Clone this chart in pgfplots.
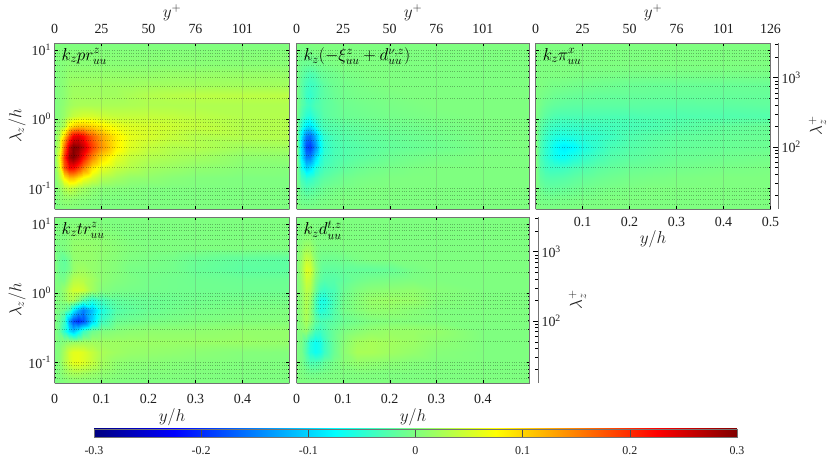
\documentclass[border=0pt]{standalone}
\usepackage{fontspec}
\setmainfont{Liberation Serif}
\usepackage{pgfplots}
\usepackage{pgfplotstable}
\pgfplotsset{compat=1.18}

% one row per lambda_z/h level (top to bottom), 16 columns: y/h = 0 .01 .02 .03 .04 .05 .06 .08 .10 .13 .16 .20 .25 .30 .40 .50

\pgfplotstableread[row sep=\\,header=false]{
0\\0\\0\\0\\0\\0\\0\\0\\0\\0\\0\\0\\0\\0\\0\\0\\
0\\.002\\.003\\.004\\.004\\.004\\.004\\.004\\.004\\.004\\.004\\.004\\.004\\.004\\.004\\.004\\
0\\.002\\.004\\.006\\.006\\.006\\.006\\.006\\.006\\.006\\.006\\.006\\.006\\.006\\.006\\.006\\
0\\.003\\.006\\.012\\.012\\.012\\.012\\.012\\.012\\.012\\.012\\.012\\.014\\.014\\.014\\.014\\
0\\.003\\.008\\.015\\.018\\.018\\.018\\.018\\.018\\.018\\.018\\.02\\.02\\.02\\.02\\.02\\
0\\.003\\.008\\.016\\.02\\.02\\.02\\.02\\.02\\.02\\.025\\.03\\.033\\.035\\.035\\.035\\
0\\.004\\.01\\.018\\.022\\.024\\.025\\.025\\.025\\.025\\.026\\.028\\.028\\.028\\.028\\.028\\
.002\\.005\\.015\\.03\\.04\\.045\\.05\\.05\\.045\\.04\\.04\\.04\\.038\\.035\\.03\\.03\\
.003\\.01\\.03\\.08\\.1\\.11\\.11\\.1\\.085\\.065\\.055\\.05\\.045\\.04\\.03\\.03\\
.005\\.03\\.1\\.18\\.23\\.24\\.22\\.17\\.13\\.085\\.06\\.05\\.04\\.03\\.03\\.03\\
.01\\.04\\.16\\.26\\.3\\.29\\.26\\.19\\.14\\.085\\.055\\.04\\.03\\.03\\.02\\.02\\
.012\\.06\\.19\\.28\\.3\\.27\\.22\\.15\\.1\\.06\\.04\\.03\\.025\\.02\\.01\\.01\\
.01\\.05\\.17\\.22\\.22\\.19\\.15\\.09\\.06\\.04\\.03\\.02\\.015\\.01\\.005\\.003\\
.005\\.03\\.08\\.11\\.11\\.09\\.07\\.05\\.03\\.02\\.012\\.01\\.005\\.002\\0\\0\\
.002\\.01\\.03\\.04\\.035\\.025\\.02\\.01\\.005\\.003\\.002\\0\\0\\0\\0\\0\\
0\\.005\\.01\\.01\\.008\\.006\\.005\\.002\\0\\0\\0\\0\\0\\0\\0\\0\\
0\\0\\.002\\.002\\.002\\.002\\.001\\0\\0\\0\\0\\0\\0\\0\\0\\0\\
}\panelA

\pgfplotstableread[row sep=\\,header=false]{
0\\0\\0\\0\\0\\0\\0\\0\\0\\0\\0\\0\\0\\0\\0\\0\\
-.001\\-.005\\-.005\\-.005\\-.002\\0\\0\\0\\0\\0\\0\\0\\0\\0\\0\\0\\
-.002\\-.01\\-.012\\-.012\\-.01\\-.008\\-.005\\-.002\\0\\0\\0\\0\\0\\0\\0\\0\\
-.003\\-.015\\-.025\\-.03\\-.025\\-.015\\-.012\\-.008\\-.004\\-.002\\0\\0\\0\\0\\0\\0\\
-.003\\-.02\\-.035\\-.04\\-.035\\-.025\\-.018\\-.01\\-.007\\-.004\\-.002\\0\\0\\0\\0\\0\\
-.003\\-.02\\-.04\\-.045\\-.035\\-.025\\-.02\\-.012\\-.008\\-.005\\-.004\\-.002\\0\\0\\0\\0\\
-.003\\-.02\\-.035\\-.04\\-.03\\-.025\\-.02\\-.015\\-.01\\-.008\\-.006\\-.004\\-.002\\0\\0\\0\\
-.004\\-.03\\-.05\\-.055\\-.04\\-.03\\-.022\\-.016\\-.012\\-.01\\-.008\\-.006\\-.004\\-.002\\0\\0\\
-.005\\-.05\\-.085\\-.09\\-.065\\-.04\\-.03\\-.024\\-.02\\-.016\\-.013\\-.01\\-.008\\-.005\\-.001\\0\\
-.005\\-.08\\-.15\\-.16\\-.12\\-.07\\-.045\\-.03\\-.025\\-.02\\-.017\\-.014\\-.011\\-.008\\-.002\\0\\
-.005\\-.09\\-.18\\-.19\\-.14\\-.08\\-.05\\-.033\\-.028\\-.024\\-.02\\-.016\\-.013\\-.01\\-.003\\0\\
-.005\\-.08\\-.15\\-.15\\-.1\\-.06\\-.042\\-.03\\-.026\\-.02\\-.016\\-.011\\-.007\\-.004\\0\\0\\
-.005\\-.06\\-.1\\-.09\\-.06\\-.042\\-.032\\-.024\\-.018\\-.012\\-.008\\-.005\\-.002\\0\\0\\0\\
-.004\\-.035\\-.05\\-.045\\-.035\\-.025\\-.02\\-.014\\-.009\\-.005\\-.003\\-.001\\0\\0\\0\\0\\
-.003\\-.02\\-.03\\-.025\\-.02\\-.015\\-.01\\-.006\\-.004\\-.002\\0\\0\\0\\0\\0\\0\\
-.002\\-.01\\-.012\\-.01\\-.008\\-.005\\-.004\\-.002\\0\\0\\0\\0\\0\\0\\0\\0\\
0\\-.003\\-.003\\-.003\\-.002\\-.002\\-.001\\0\\0\\0\\0\\0\\0\\0\\0\\0\\
}\panelB

\pgfplotstableread[row sep=\\,header=false]{
0\\0\\0\\0\\0\\0\\0\\0\\0\\0\\0\\0\\0\\0\\0\\0\\
0\\0\\0\\0\\0\\0\\0\\0\\0\\0\\0\\0\\0\\0\\0\\0\\
0\\0\\0\\0\\0\\0\\0\\0\\0\\0\\0\\0\\0\\0\\0\\0\\
0\\0\\0\\0\\0\\0\\0\\-.001\\-.002\\-.003\\-.003\\-.004\\-.004\\-.004\\-.004\\-.004\\
0\\0\\-.002\\-.004\\-.005\\-.005\\-.006\\-.007\\-.008\\-.009\\-.01\\-.012\\-.013\\-.013\\-.013\\-.013\\
0\\-.003\\-.006\\-.008\\-.01\\-.011\\-.012\\-.013\\-.014\\-.015\\-.015\\-.015\\-.015\\-.015\\-.015\\-.015\\
0\\-.006\\-.012\\-.015\\-.017\\-.018\\-.019\\-.02\\-.02\\-.02\\-.02\\-.02\\-.021\\-.021\\-.02\\-.018\\
0\\-.012\\-.02\\-.025\\-.028\\-.03\\-.03\\-.03\\-.03\\-.03\\-.03\\-.03\\-.028\\-.028\\-.027\\-.026\\
0\\-.02\\-.03\\-.037\\-.04\\-.042\\-.042\\-.042\\-.04\\-.038\\-.035\\-.033\\-.03\\-.024\\-.017\\-.013\\
0\\-.025\\-.04\\-.048\\-.054\\-.057\\-.058\\-.055\\-.05\\-.045\\-.038\\-.028\\-.022\\-.018\\-.014\\-.012\\
0\\-.03\\-.047\\-.058\\-.07\\-.08\\-.085\\-.078\\-.06\\-.045\\-.032\\-.025\\-.02\\-.016\\-.013\\-.011\\
0\\-.03\\-.045\\-.055\\-.065\\-.07\\-.07\\-.058\\-.045\\-.034\\-.025\\-.02\\-.016\\-.012\\-.009\\-.006\\
0\\-.025\\-.035\\-.04\\-.04\\-.04\\-.038\\-.032\\-.027\\-.02\\-.016\\-.012\\-.01\\-.007\\-.004\\-.002\\
0\\-.018\\-.024\\-.026\\-.026\\-.025\\-.024\\-.02\\-.016\\-.012\\-.009\\-.006\\-.004\\-.002\\0\\0\\
0\\-.01\\-.016\\-.017\\-.017\\-.016\\-.015\\-.012\\-.009\\-.006\\-.004\\-.002\\0\\0\\0\\0\\
0\\-.005\\-.006\\-.006\\-.006\\-.005\\-.005\\-.004\\-.003\\-.002\\0\\0\\0\\0\\0\\0\\
0\\-.001\\-.002\\-.002\\-.002\\-.002\\-.001\\-.001\\0\\0\\0\\0\\0\\0\\0\\0\\
}\panelC

\pgfplotstableread[row sep=\\,header=false]{
0\\0\\0\\0\\0\\0\\0\\0\\0\\0\\0\\0\\0\\0\\0\\0\\
0\\0\\0\\.002\\.005\\.005\\.005\\.004\\.002\\0\\0\\0\\0\\0\\0\\0\\
0\\0\\0\\.005\\.01\\.01\\.01\\.01\\.008\\.004\\0\\0\\0\\0\\0\\0\\
0\\-.003\\0\\.005\\.012\\.013\\.013\\.012\\.01\\.006\\.002\\0\\0\\0\\0\\0\\
0\\-.012\\-.018\\-.005\\.01\\.012\\.012\\.012\\.008\\.004\\-.001\\-.003\\-.006\\-.012\\-.018\\-.02\\
0\\-.012\\-.015\\-.005\\.012\\.018\\.018\\.012\\.008\\.003\\-.004\\-.005\\-.007\\-.014\\-.02\\-.02\\
0\\-.005\\-.005\\.015\\.03\\.033\\.03\\.02\\.008\\.002\\-.002\\-.006\\-.008\\-.01\\-.012\\-.012\\
0\\.003\\.015\\.035\\.048\\.05\\.045\\.02\\.003\\-.003\\-.005\\-.007\\-.008\\-.009\\-.01\\-.01\\
0\\.002\\.01\\.025\\.025\\.005\\-.025\\-.05\\-.035\\-.018\\-.014\\-.012\\-.01\\-.008\\-.006\\-.005\\
0\\-.003\\-.01\\-.03\\-.08\\-.12\\-.15\\-.11\\-.06\\-.025\\-.018\\-.012\\-.008\\-.005\\-.002\\0\\
0\\-.012\\-.04\\-.13\\-.18\\-.2\\-.18\\-.1\\-.04\\-.012\\-.008\\-.004\\-.002\\0\\.002\\.003\\
0\\-.012\\-.05\\-.09\\-.11\\-.08\\-.04\\-.01\\0\\.005\\.008\\.01\\.01\\.01\\.012\\.012\\
0\\-.002\\.005\\.012\\.016\\.018\\.02\\.02\\.018\\.018\\.017\\.016\\.015\\.015\\.015\\.012\\
0\\.005\\.025\\.048\\.058\\.06\\.055\\.04\\.025\\.018\\.014\\.012\\.01\\.007\\.003\\.002\\
0\\.006\\.028\\.048\\.06\\.062\\.055\\.04\\.022\\.01\\.007\\.006\\.004\\.003\\.001\\0\\
0\\.003\\.012\\.02\\.024\\.024\\.02\\.015\\.01\\.005\\.003\\.002\\.002\\.001\\0\\0\\
0\\0\\.002\\.003\\.003\\.003\\.002\\.002\\.001\\0\\0\\0\\0\\0\\0\\0\\
}\panelD

\pgfplotstableread[row sep=\\,header=false]{
0\\0\\0\\0\\0\\0\\0\\0\\0\\0\\0\\0\\0\\0\\0\\0\\
0\\0\\.003\\.002\\0\\0\\0\\0\\0\\0\\0\\0\\0\\0\\0\\0\\
0\\.002\\.006\\.006\\0\\0\\0\\0\\0\\0\\0\\0\\0\\0\\0\\0\\
0\\.008\\.02\\.018\\.004\\-.002\\-.002\\-.002\\-.001\\0\\0\\0\\0\\0\\0\\0\\
0\\.015\\.04\\.035\\.005\\-.008\\-.01\\-.01\\-.008\\-.003\\0\\0\\0\\0\\0\\0\\
0\\.02\\.055\\.05\\.01\\-.012\\-.018\\-.018\\-.016\\-.016\\-.016\\-.014\\-.004\\0\\0\\0\\
0\\.015\\.045\\.04\\.002\\-.018\\-.024\\-.024\\-.018\\-.01\\-.006\\-.004\\-.001\\0\\0\\0\\
0\\.012\\.035\\.028\\-.01\\-.035\\-.04\\-.03\\-.012\\0\\.006\\.008\\.01\\.004\\0\\0\\
0\\.01\\.03\\.015\\-.03\\-.06\\-.06\\-.03\\-.008\\.004\\.014\\.016\\.014\\.003\\0\\0\\
0\\.01\\.028\\.01\\-.03\\-.055\\-.05\\-.025\\-.006\\.003\\.01\\.01\\.005\\0\\0\\0\\
0\\.008\\.025\\.008\\-.018\\-.03\\-.028\\-.02\\-.012\\-.006\\0\\.002\\.002\\.001\\0\\0\\
0\\.005\\.012\\-.01\\-.035\\-.04\\-.03\\-.012\\-.002\\.006\\.012\\.015\\.015\\.012\\0\\0\\
0\\-.003\\-.025\\-.055\\-.068\\-.06\\-.04\\-.012\\.004\\.02\\.024\\.02\\.016\\.008\\0\\0\\
0\\-.005\\-.03\\-.055\\-.068\\-.06\\-.04\\-.012\\.006\\.024\\.024\\.018\\.012\\.004\\0\\0\\
0\\-.004\\-.018\\-.03\\-.03\\-.025\\-.015\\-.004\\.005\\.012\\.01\\.007\\.003\\.001\\0\\0\\
0\\-.001\\-.005\\-.008\\-.008\\-.006\\-.004\\-.001\\0\\.001\\.001\\0\\0\\0\\0\\0\\
0\\0\\0\\0\\0\\0\\0\\0\\0\\0\\0\\0\\0\\0\\0\\0\\
}\panelE

\definecolor{framegray}{gray}{0.45}
\definecolor{ticktext}{gray}{0.12}
\newcommand\lbl{\fontsize{14}{16}\selectfont}
\newcommand\mlbl{\fontsize{18}{20}\selectfont}

\pgfplotsset{
  panel/.style={
    scale only axis, width=235bp, height=166bp,
    xmin=0, xmax=0.5, ymin=0.0502, ymax=12.58,
    view={0}{90}, axis on top,
    colormap/jet, point meta min=-0.3, point meta max=0.3,
    ytick={0.1,1,10},
    minor ytick={.06,.07,.08,.09,.2,.3,.4,.5,.6,.7,.8,.9,2,3,4,5,6,7,8,9},
    yticklabels={},
    xmajorgrids, ymajorgrids, yminorgrids,
    x grid style={black!60,opacity=.22,line width=.5pt},
    y grid style={black,opacity=.28,dotted,line width=.25pt},
    tick align=inside, major tick length=3bp, minor tick length=1.6bp,
    tick style={black,line width=.4pt},
    axis line style={framegray,line width=.8pt},
    tick label style={font=\lbl,text=ticktext},
    label style={font=\mlbl,text=ticktext},
  },
  toprow/.style={
    xticklabel pos=top, xtick={0,.1,.2,.3,.4},
    xticklabels={0,25,50,76,101}, xticklabel shift=6bp,
    xlabel={$y^+$}, xlabel style={yshift=-4bp},
  },
  botrow/.style={
    xtick={0,.1,.2,.3,.4},
    xticklabels={0,0.1,0.2,0.3,0.4}, xticklabel shift=8bp,
    xlabel={$y/h$}, xlabel style={yshift=2bp},
  },
  leftcol/.style={
    yticklabels={10\textsuperscript{-1},10\textsuperscript{0},10\textsuperscript{1}},
    ylabel={$\lambda_z/h$}, ylabel shift=-4bp,
  },
  fieldplot/.style={surf,shader=interp,mesh/cols=16},
  rightaxis/.style={
    scale only axis, width=5bp, height=166bp,
    ymin=12.65, ymax=3170, xmin=0, xmax=1,
    hide x axis, axis y line*=right,
    ytick={100,1000},
    minor ytick={20,30,40,50,60,70,80,90,200,300,400,500,600,700,800,900,2000,3000},
    yticklabels={10\textsuperscript{2},10\textsuperscript{3}},
    tick align=inside, major tick length=5bp, minor tick length=3bp,
    tick style={black,line width=.4pt},
    axis line style={framegray,line width=.8pt},
    tick label style={font=\lbl,text=ticktext},
    label style={font=\mlbl,text=ticktext},
    ylabel={$\lambda_z^+$}, ylabel shift=1bp,
  },
}
\newcommand\field[1]{\addplot3[fieldplot] table[
  x index=0, y index=0, z index=0,
  x expr={xpos(mod(\coordindex,16))},
  y expr={10^(1.1-0.15*floor((\coordindex+.5)/16))}] {#1};}
\newcommand\plabel[1]{\node[anchor=west,font=\mlbl,inner sep=0pt]
  at (axis description cs:0.03,0.92) {#1};}

\begin{document}
\begin{tikzpicture}[declare function={
  xpos(\i)=\i<6.5 ? \i*.01 : (\i<7.5 ? .08 : (\i<8.5 ? .10 : (\i<9.5 ? .13 : (\i<10.5 ? .16 :
    (\i<11.5 ? .20 : (\i<12.5 ? .25 : (\i<13.5 ? .30 : (\i<14.5 ? .40 : .50))))))));}]
\path[use as bounding box] (0,0) rectangle (830bp,-457bp);

\begin{semilogyaxis}[panel,toprow,leftcol,at={(54.5bp,-209bp)}]
\field{\panelA}
\plabel{$k_z pr^z_{uu}$}
\end{semilogyaxis}

\begin{semilogyaxis}[panel,toprow,at={(296.5bp,-209bp)},width=233bp]
\field{\panelB}
\plabel{$k_z(-\xi^z_{uu}+d^{\nu,z}_{uu})$}
\end{semilogyaxis}

\begin{semilogyaxis}[panel,toprow,at={(535.5bp,-209bp)},xtick={0,.1,.2,.3,.4,.5},xticklabels={0,25,50,76,101,126}]
\field{\panelC}
\plabel{$k_z\pi^x_{uu}$}
\end{semilogyaxis}
% bottom labels of the upper right panel
\begin{axis}[scale only axis,width=235bp,height=166bp,at={(535.5bp,-209bp)},
  xmin=0,xmax=.5,ymin=0,ymax=1,hide y axis,axis x line*=bottom,
  xtick={.1,.2,.3,.4,.5},xticklabels={0.1,0.2,0.3,0.4,0.5},
  axis line style={draw=none},major tick length=0pt,
  tick label style={font=\lbl,text=ticktext},label style={font=\mlbl,text=ticktext},
  xticklabel shift=5bp,
  xlabel={$y/h$},xlabel style={yshift=3bp}]
\end{axis}
\begin{semilogyaxis}[rightaxis,at={(773bp,-209bp)}]
\end{semilogyaxis}

\begin{semilogyaxis}[panel,botrow,leftcol,at={(54.5bp,-383bp)},
  colorbar horizontal,
  colorbar style={
    at={(0.168,-0.277)},anchor=north west,
    scale only axis,width=643bp,height=8bp,
    xtick={-.3,-.2,-.1,0,.1,.2,.3},
    xticklabels={-0.3,-0.2,-0.1,0,0.1,0.2,0.3},
    xticklabel style={font=\fontsize{12}{14}\selectfont,text=ticktext,yshift=-6bp},
    axis line style={framegray,line width=.8pt},
    major tick length=8bp,tick align=inside,
    tick style={black!70,line width=.4pt},
  }]
\field{\panelD}
\plabel{$k_z tr^z_{uu}$}
\end{semilogyaxis}

\begin{semilogyaxis}[panel,botrow,at={(296.5bp,-383bp)},width=233bp]
\field{\panelE}
\plabel{$k_z d^{t,z}_{uu}$}
\end{semilogyaxis}
\begin{semilogyaxis}[rightaxis,at={(533bp,-383bp)}]
\end{semilogyaxis}
\end{tikzpicture}
\end{document}
